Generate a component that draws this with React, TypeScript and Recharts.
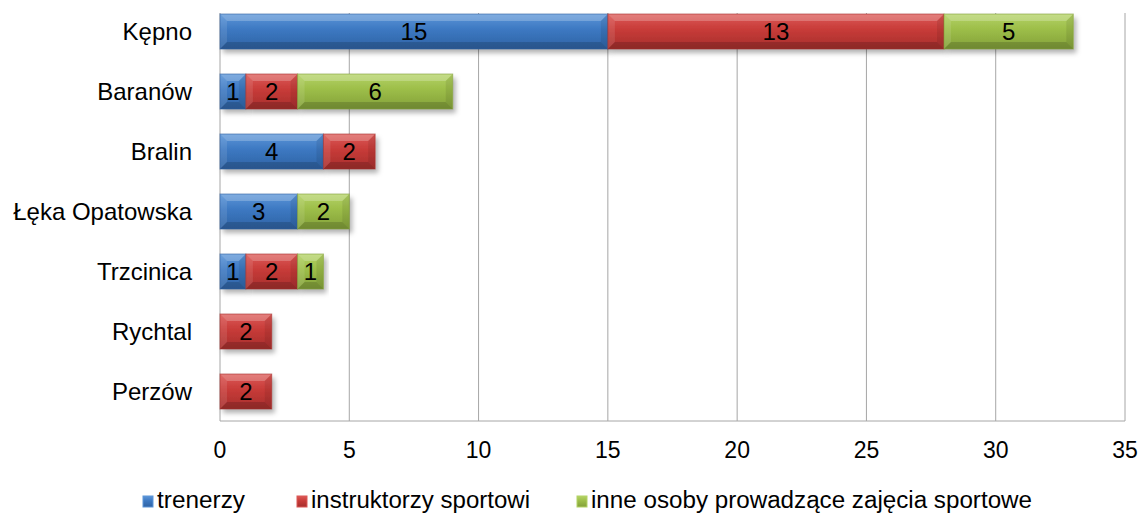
import { BarChart, Bar, XAxis, YAxis, CartesianGrid, LabelList, Legend } from "recharts";

const places = ["Kępno", "Baranów", "Bralin", "Łęka Opatowska", "Trzcinica", "Rychtal", "Perzów"];
const trenerzy = [15, 1, 4, 3, 1, 0, 0];
const instruktorzy = [13, 2, 2, 0, 2, 2, 2];
const inne = [5, 6, 0, 2, 1, 0, 0];
const xTicks = [0, 5, 10, 15, 20, 25, 30, 35];

const data = places.map((place, i) => ({
  place,
  trenerzy: trenerzy[i],
  instruktorzy: instruktorzy[i],
  inne: inne[i],
}));

const palette = {
  trenerzy: { id: "gBlue", light: "#5c95d8", base: "#3c78c1", dark: "#2f63a4" },
  instruktorzy: { id: "gRed", light: "#dc5956", base: "#c73b38", dark: "#a62f2d" },
  inne: { id: "gGreen", light: "#b4d366", base: "#9cbd48", dark: "#83a03a" },
};

type Shade = typeof palette.trenerzy;

const font = "'Liberation Sans', Arial, sans-serif";
const gridColor = "#a6a6a6";

function bevelShape(c: Shade) {
  return (props: any) => {
    const { x, y, width, height } = props;
    if (!width || width <= 0) return <g />;
    const b = Math.min(7, width / 3, height / 3);
    return (
      <g>
        <rect x={x} y={y} width={width} height={height} fill={`url(#${c.id})`} filter="url(#barShadow)" />
        <polygon points={`${x},${y} ${x + width},${y} ${x + width - b},${y + b} ${x + b},${y + b}`} fill="#fff" fillOpacity={0.22} />
        <polygon points={`${x},${y} ${x + b},${y + b} ${x + b},${y + height - b} ${x},${y + height}`} fill="#fff" fillOpacity={0.1} />
        <polygon points={`${x + width},${y} ${x + width},${y + height} ${x + width - b},${y + height - b} ${x + width - b},${y + b}`} fill="#000" fillOpacity={0.08} />
        <polygon points={`${x},${y + height} ${x + b},${y + height - b} ${x + width - b},${y + height - b} ${x + width},${y + height}`} fill="#000" fillOpacity={0.15} />
        <rect x={x} y={y} width={width} height={height} fill="none" stroke={c.dark} strokeOpacity={0.6} strokeWidth={1} />
      </g>
    );
  };
}

const legendItems = [
  { label: "trenerzy", c: palette.trenerzy, mx: 143, tx: 157, len: 88 },
  { label: "instruktorzy sportowi", c: palette.instruktorzy, mx: 297, tx: 311, len: 219 },
  { label: "inne osoby prowadzące zajęcia sportowe", c: palette.inne, mx: 577, tx: 591, len: 441 },
];

function renderLegend() {
  return (
    <svg width={1144} height={43} style={{ display: "block" }}>
      {legendItems.map((it) => (
        <g key={it.label}>
          <rect x={it.mx} y={25} width={10} height={11} fill={`url(#${it.c.id})`} stroke={it.c.light} strokeWidth={1} />
          <text
            x={it.tx}
            y={37}
            fontSize={23}
            fontFamily="'Liberation Sans Narrow', 'Liberation Sans', Arial, sans-serif"
            fill="#000"
            textLength={it.len}
            lengthAdjust="spacingAndGlyphs"
          >
            {it.label}
          </text>
        </g>
      ))}
    </svg>
  );
}

const hideZero = (v: any) => (v ? v : "");

export default function App() {
  return (
    <div style={{ position: "absolute", left: 0, top: 0, width: 1144, height: 514, background: "#fff" }}>
      <svg width={0} height={0} style={{ position: "absolute" }}>
        <defs>
          <filter id="barShadow" x="-10%" y="-20%" width="130%" height="160%">
            <feDropShadow dx={3} dy={4} stdDeviation={2.5} floodColor="#000" floodOpacity={0.3} />
          </filter>
          {Object.values(palette).map((c) => (
            <linearGradient key={c.id} id={c.id} x1="0" y1="0" x2="0" y2="1">
              <stop offset="0%" stopColor={c.light} />
              <stop offset="45%" stopColor={c.base} />
              <stop offset="100%" stopColor={c.dark} />
            </linearGradient>
          ))}
        </defs>
      </svg>
      <BarChart
        width={1144}
        height={514}
        data={data}
        layout="vertical"
        margin={{ top: 1, right: 19, left: 0, bottom: 0 }}
        barSize={35}
      >
        <CartesianGrid horizontal={false} stroke={gridColor} y={13} height={408} />
        <XAxis
          type="number"
          domain={[0, 35]}
          ticks={xTicks}
          tickLine={false}
          tickSize={0}
          tickMargin={21}
          axisLine={{ stroke: gridColor }}
          tick={{ fontSize: 23, fill: "#000", fontFamily: font }}
          height={50}
        />
        <YAxis
          type="category"
          dataKey="place"
          width={220}
          axisLine={false}
          tickLine={false}
          tickSize={0}
          tickMargin={28}
          tick={{ fontSize: 24, fill: "#000", fontFamily: font }}
        />
        <Legend verticalAlign="bottom" height={43} content={renderLegend} wrapperStyle={{ left: 0, width: 1144 }} />
        <Bar dataKey="trenerzy" name="trenerzy" stackId="a" fill={palette.trenerzy.base} shape={bevelShape(palette.trenerzy)} isAnimationActive={false}>
          <LabelList dataKey="trenerzy" position="center" formatter={hideZero} fill="#000" fontSize={24} fontFamily={font} />
        </Bar>
        <Bar dataKey="instruktorzy" name="instruktorzy sportowi" stackId="a" fill={palette.instruktorzy.base} shape={bevelShape(palette.instruktorzy)} isAnimationActive={false}>
          <LabelList dataKey="instruktorzy" position="center" formatter={hideZero} fill="#000" fontSize={24} fontFamily={font} />
        </Bar>
        <Bar dataKey="inne" name="inne osoby prowadzące zajęcia sportowe" stackId="a" fill={palette.inne.base} shape={bevelShape(palette.inne)} isAnimationActive={false}>
          <LabelList dataKey="inne" position="center" formatter={hideZero} fill="#000" fontSize={24} fontFamily={font} />
        </Bar>
      </BarChart>
    </div>
  );
}
